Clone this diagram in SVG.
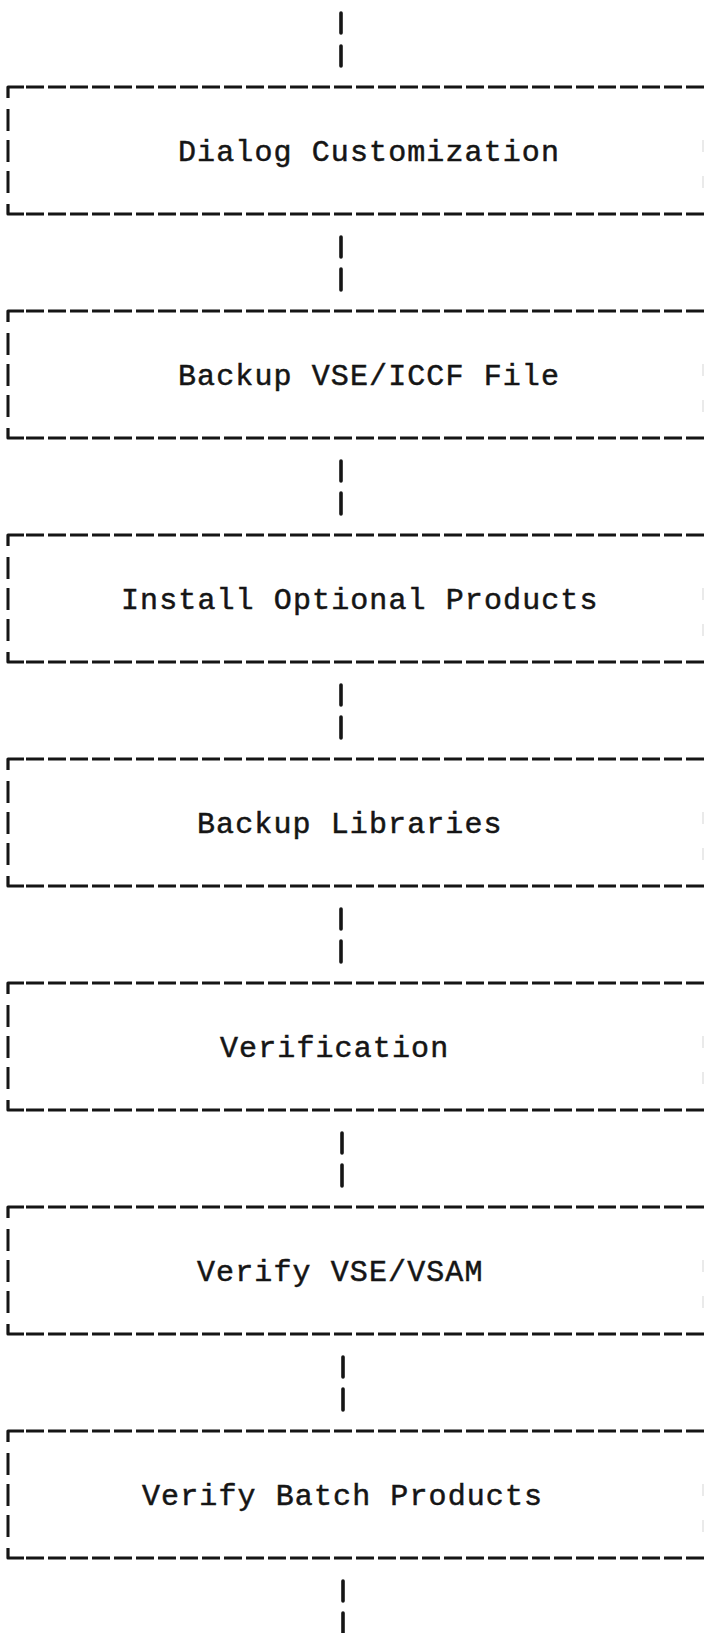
<svg xmlns="http://www.w3.org/2000/svg" width="706" height="1633" viewBox="0 0 706 1633">
<style>
.bg{fill:#ffffff}
.h{stroke:#151515;stroke-width:2.8;stroke-dasharray:18 4;fill:none}
.c{stroke:#151515;stroke-width:3.2;fill:none;stroke-linejoin:round}
.lv{stroke:#151515;stroke-width:3;stroke-dasharray:22 9;fill:none}
.rv{stroke:#dcdcdc;stroke-width:1.2;stroke-dasharray:12 24;fill:none}
.k{stroke:#151515;stroke-width:3.6;stroke-linecap:round;fill:none}
.t{font-family:"Liberation Mono","DejaVu Sans Mono",monospace;font-size:30px;letter-spacing:1.1px;fill:#151515;stroke:#151515;stroke-width:0.5}
</style>
<rect class="bg" x="0" y="0" width="706" height="1633"/>
<g id="connectors">
<line class="k" x1="341" y1="13" x2="341" y2="33"/><line class="k" x1="341" y1="46" x2="341" y2="66"/>
<line class="k" x1="341" y1="237" x2="341" y2="257"/><line class="k" x1="341" y1="269" x2="341" y2="290"/>
<line class="k" x1="341" y1="461" x2="341" y2="481"/><line class="k" x1="341" y1="493" x2="341" y2="514"/>
<line class="k" x1="341" y1="685" x2="341" y2="705"/><line class="k" x1="341" y1="717" x2="341" y2="738"/>
<line class="k" x1="341" y1="909" x2="341" y2="929"/><line class="k" x1="341" y1="941" x2="341" y2="962"/>
<line class="k" x1="342" y1="1133" x2="342" y2="1153"/><line class="k" x1="342" y1="1165" x2="342" y2="1186"/>
<line class="k" x1="343" y1="1357" x2="343" y2="1377"/><line class="k" x1="343" y1="1389" x2="343" y2="1410"/>
<line class="k" x1="343" y1="1581" x2="343" y2="1601"/><line class="k" x1="343" y1="1613" x2="343" y2="1633"/>
</g>
<g id="n1">
<path class="c" d="M8,98 V87 H24"/><line class="h" x1="26" y1="87" x2="706" y2="87"/>
<line class="lv" x1="8" y1="109" x2="8" y2="193"/>
<path class="c" d="M8,204 V214 H24"/><line class="h" x1="26" y1="214" x2="706" y2="214"/>
<line class="rv" x1="703" y1="140" x2="703" y2="210"/>
<text class="t" x="178" y="161">Dialog Customization</text>
</g>
<g id="n2">
<path class="c" d="M8,322 V311 H24"/><line class="h" x1="26" y1="311" x2="706" y2="311"/>
<line class="lv" x1="8" y1="333" x2="8" y2="417"/>
<path class="c" d="M8,428 V438 H24"/><line class="h" x1="26" y1="438" x2="706" y2="438"/>
<line class="rv" x1="703" y1="364" x2="703" y2="434"/>
<text class="t" x="178" y="385">Backup VSE/ICCF File</text>
</g>
<g id="n3">
<path class="c" d="M8,546 V535 H24"/><line class="h" x1="26" y1="535" x2="706" y2="535"/>
<line class="lv" x1="8" y1="557" x2="8" y2="641"/>
<path class="c" d="M8,652 V662 H24"/><line class="h" x1="26" y1="662" x2="706" y2="662"/>
<line class="rv" x1="703" y1="588" x2="703" y2="658"/>
<text class="t" x="121" y="609">Install Optional Products</text>
</g>
<g id="n4">
<path class="c" d="M8,770 V759 H24"/><line class="h" x1="26" y1="759" x2="706" y2="759"/>
<line class="lv" x1="8" y1="781" x2="8" y2="865"/>
<path class="c" d="M8,876 V886 H24"/><line class="h" x1="26" y1="886" x2="706" y2="886"/>
<line class="rv" x1="703" y1="812" x2="703" y2="882"/>
<text class="t" x="197" y="833">Backup Libraries</text>
</g>
<g id="n5">
<path class="c" d="M8,994 V983 H24"/><line class="h" x1="26" y1="983" x2="706" y2="983"/>
<line class="lv" x1="8" y1="1005" x2="8" y2="1089"/>
<path class="c" d="M8,1100 V1110 H24"/><line class="h" x1="26" y1="1110" x2="706" y2="1110"/>
<line class="rv" x1="703" y1="1036" x2="703" y2="1106"/>
<text class="t" x="220" y="1057">Verification</text>
</g>
<g id="n6">
<path class="c" d="M8,1218 V1207 H24"/><line class="h" x1="26" y1="1207" x2="706" y2="1207"/>
<line class="lv" x1="8" y1="1229" x2="8" y2="1313"/>
<path class="c" d="M8,1324 V1334 H24"/><line class="h" x1="26" y1="1334" x2="706" y2="1334"/>
<line class="rv" x1="703" y1="1260" x2="703" y2="1330"/>
<text class="t" x="197" y="1281">Verify VSE/VSAM</text>
</g>
<g id="n7">
<path class="c" d="M8,1442 V1431 H24"/><line class="h" x1="26" y1="1431" x2="706" y2="1431"/>
<line class="lv" x1="8" y1="1453" x2="8" y2="1537"/>
<path class="c" d="M8,1548 V1558 H24"/><line class="h" x1="26" y1="1558" x2="706" y2="1558"/>
<line class="rv" x1="703" y1="1484" x2="703" y2="1554"/>
<text class="t" x="142" y="1505">Verify Batch Products</text>
</g>
</svg>
